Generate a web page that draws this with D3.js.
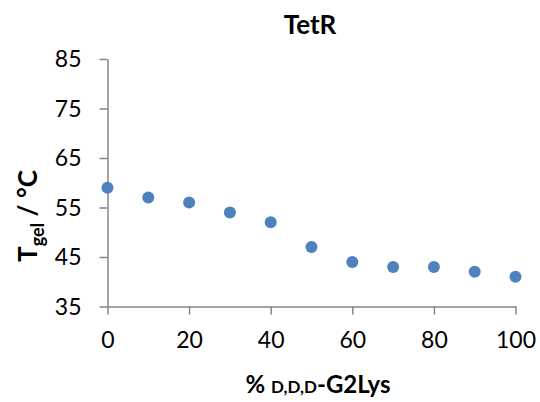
<!DOCTYPE html>
<html>
<head>
<meta charset="utf-8">
<script src="https://cdn.jsdelivr.net/npm/d3@7"></script>
<style>
  html, body { margin: 0; padding: 0; background: #fff; }
  svg { display: block; font-family: Lato, "Open Sans", sans-serif; }
</style>
</head>
<body>
<script>
const xValues = [0, 10, 20, 30, 40, 50, 60, 70, 80, 90, 100];
const yValues = [59, 57, 56, 54, 52, 47, 44, 43, 43, 42, 41];
const xTicks = [0, 20, 40, 60, 80, 100];
const yTicks = [35, 45, 55, 65, 75, 85];
const title = "TetR";

const W = 540, H = 402;
const svg = d3.select("body").append("svg").attr("width", W).attr("height", H);

const x = d3.scaleLinear().domain([0, 100]).range([107.5, 515.5]);
const y = d3.scaleLinear().domain([35, 85]).range([306.5, 59]);
const axisColor = "#868686";

const xAxis = svg.append("g").attr("transform", `translate(0,${y(35)})`)
  .call(d3.axisBottom(x).tickValues(xTicks).tickSize(8).tickSizeOuter(0).tickPadding(17));
const yAxis = svg.append("g").attr("transform", `translate(${x(0)},0)`)
  .call(d3.axisLeft(y).tickValues(yTicks).tickSize(8).tickSizeOuter(0).tickPadding(18));

[xAxis, yAxis].forEach(g => {
  g.select(".domain").attr("stroke", axisColor).attr("stroke-width", 1.5);
  g.selectAll(".tick line").attr("stroke", axisColor).attr("stroke-width", 1.5);
  g.selectAll(".tick text").attr("fill", "#000").style("font-size", "23px")
    .style("font-family", "Lato, 'Open Sans', sans-serif");
});
xAxis.selectAll(".tick text").attr("dy", "0.71em");
yAxis.selectAll(".tick text").attr("dy", "0.34em");

svg.append("g").selectAll("circle").data(xValues.map((v, i) => [v, yValues[i]]))
  .join("circle")
  .attr("cx", d => x(d[0])).attr("cy", d => y(d[1])).attr("r", 6)
  .attr("fill", "#4F81BD");

svg.append("text").attr("x", 310).attr("y", 34).attr("text-anchor", "middle")
  .style("font-size", "26px").style("font-weight", "bold").text(title);

// x label
const xl = svg.append("text").attr("x", 318).attr("y", 393).attr("text-anchor", "middle")
  .style("font-size", "24px").style("font-weight", "bold");
xl.append("tspan").text("% ");
xl.append("tspan").style("font-size", "17px").text("D,D,D");
xl.append("tspan").text("-G2Lys");

// y label
const yl = svg.append("text").attr("transform", "translate(37,216) rotate(-90)")
  .attr("text-anchor", "middle").style("font-size", "26px").style("font-weight", "bold");
yl.append("tspan").text("T");
yl.append("tspan").attr("dy", 7).style("font-size", "18px").text("gel");
yl.append("tspan").attr("dy", -7).text(" / °C");
</script>
</body>
</html>
